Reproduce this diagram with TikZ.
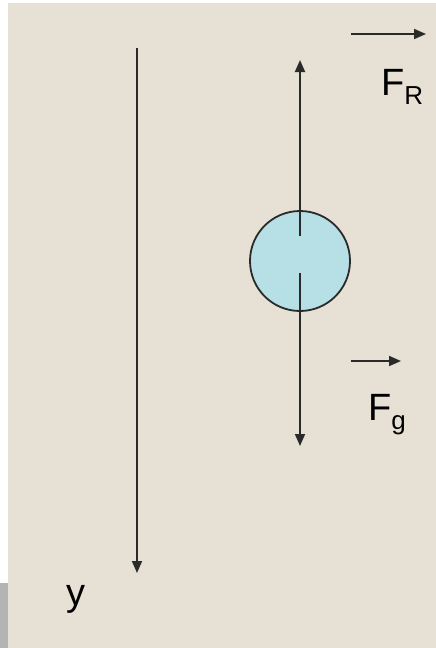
\documentclass[tikz,border=0pt]{standalone}
\usepackage{fontspec}
\setmainfont{Liberation Sans}
\usetikzlibrary{arrows.meta,positioning}
\definecolor{fallpaper}{HTML}{E6E0D5}
\definecolor{fallball}{HTML}{B7E0E6}
\definecolor{fallink}{HTML}{2A2A2A}
\definecolor{fallgrey}{HTML}{B4B4B4}
\tikzset{
  fallarrow/.style={-{Triangle[length=12pt,width=10pt]}, line width=1.8pt, draw=fallink},
  fallball/.style={circle, draw=fallink, line width=1.8pt, fill=fallball, minimum size=100pt, inner sep=0pt},
  falllabel/.style={inner sep=0pt, anchor=base west, text=black, font=\fontsize{38}{40}\selectfont}
}
\newcommand{\forcelabel}[2]{#1\raisebox{-9pt}{\fontsize{26}{26}\selectfont #2}}

\begin{document}
\begin{tikzpicture}[x=1pt, y=-1pt]
\useasboundingbox (0,0) rectangle (436,648);
\fill[white] (0,0) rectangle (436,648);
\fill[fallpaper] (8,3) rectangle (436,648);
\fill[fallgrey] (0,583) rectangle (8,648);
% y axis
\coordinate (ytop) at (137,48);
\coordinate (ybot) at (137,573);
\draw[fallarrow] (ytop) -- (ybot);
\node[falllabel] (ylabel) at (66,605) {y};
% ball and forces
\node[fallball] (ball) at (300,261) {};
\coordinate (rtail) at (300,236);
\coordinate (rtip) at (300,60);
\coordinate (gtail) at (300,273);
\coordinate (gtip) at (300,446);
\draw[fallarrow] (rtail) -- (rtip);
\draw[fallarrow] (gtail) -- (gtip);
% labels with little vectors
\node[falllabel] (frlabel) at (381,95) {\forcelabel{F}{R}};
\node[falllabel] (fglabel) at (368,420) {\forcelabel{F}{g}};
\coordinate (frstart) at (351,34);
\coordinate (frend) at (426,34);
\coordinate (fgstart) at (351,361);
\coordinate (fgend) at (401,361);
\draw[fallarrow] (frstart) -- (frend);
\draw[fallarrow] (fgstart) -- (fgend);
\end{tikzpicture}
\end{document}
